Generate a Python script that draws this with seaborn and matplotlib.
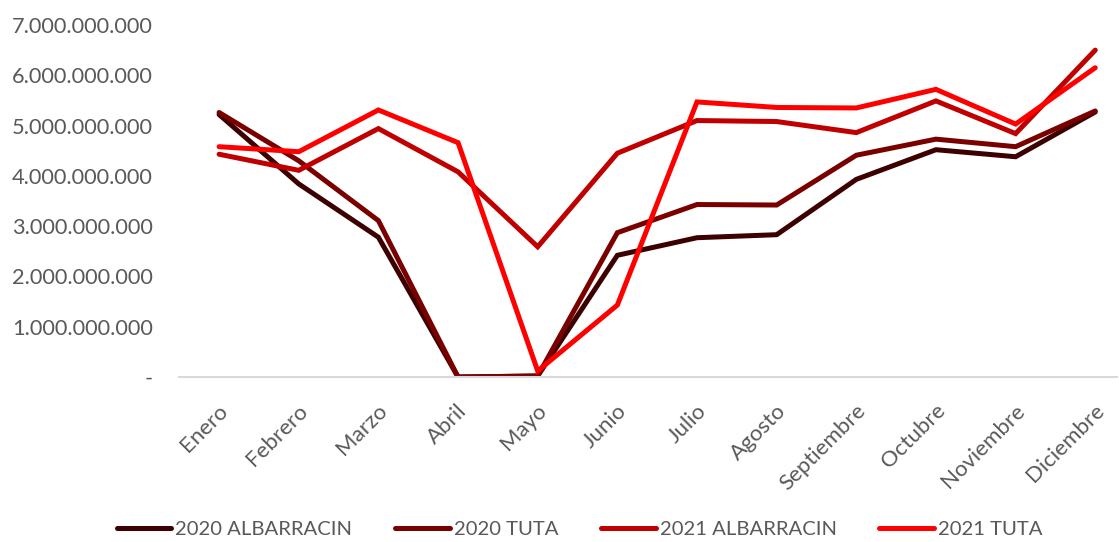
import matplotlib
matplotlib.use("Agg")
import matplotlib.pyplot as plt
from matplotlib.ticker import FuncFormatter, MultipleLocator
from matplotlib.transforms import ScaledTranslation
import seaborn as sns
import pandas as pd

meses = ["Enero", "Febrero", "Marzo", "Abril", "Mayo", "Junio", "Julio",
         "Agosto", "Septiembre", "Octubre", "Noviembre", "Diciembre"]

albarracin_2020 = [5.22e9, 3.84e9, 2.78e9, 0.00e9, 0.02e9, 2.42e9,
                   2.77e9, 2.83e9, 3.93e9, 4.52e9, 4.38e9, 5.27e9]
tuta_2020 = [5.26e9, 4.30e9, 3.11e9, 0.00e9, 0.02e9, 2.87e9,
             3.43e9, 3.42e9, 4.41e9, 4.73e9, 4.58e9, 5.29e9]
albarracin_2021 = [4.43e9, 4.11e9, 4.94e9, 4.08e9, 2.59e9, 4.45e9,
                   5.10e9, 5.08e9, 4.86e9, 5.49e9, 4.84e9, 6.50e9]
tuta_2021 = [4.58e9, 4.48e9, 5.31e9, 4.66e9, 0.12e9, 1.43e9,
             5.47e9, 5.36e9, 5.35e9, 5.72e9, 5.03e9, 6.15e9]

series = ["2020 ALBARRACIN", "2020 TUTA", "2021 ALBARRACIN", "2021 TUTA"]
colores = ["#3d0000", "#7a0000", "#c00000", "#ff0000"]

df = pd.concat([
    pd.DataFrame({"Mes": meses, "Valor": vals, "Serie": name})
    for name, vals in zip(series, [albarracin_2020, tuta_2020,
                                   albarracin_2021, tuta_2021])
], ignore_index=True)

sns.set_theme(style="white")
plt.rcParams["font.family"] = ["Lato", "DejaVu Sans"]

fig = plt.figure(figsize=(11.19, 5.42), dpi=100)
ax = fig.add_axes([0.1602, 0.3044, 0.8378, 0.6495])

LW = 3.6
sns.lineplot(data=df, x="Mes", y="Valor", hue="Serie", hue_order=series,
             palette=colores, linewidth=LW, sort=False, ax=ax, legend=False)
for ln in ax.get_lines():
    ln.set_solid_capstyle("round")
    ln.set_solid_joinstyle("miter")

ax.set_ylim(0, 7e9)
ax.set_xlim(-0.5, 11.27)
ax.yaxis.set_major_locator(MultipleLocator(1e9))


def fmt_miles(v, pos):
    if abs(v) < 1:
        return "-"
    return f"{v:,.0f}".replace(",", ".")


ax.yaxis.set_major_formatter(FuncFormatter(fmt_miles))
ax.set_xlabel("")
ax.set_ylabel("")

for side in ["top", "right", "left"]:
    ax.spines[side].set_visible(False)
ax.spines["bottom"].set_color("#d9d9d9")
ax.spines["bottom"].set_linewidth(1.5)

ax.tick_params(axis="y", length=0, pad=19, labelsize=15.7, labelcolor="#595959")
ax.tick_params(axis="x", length=0, pad=22, labelsize=16, labelcolor="#595959")
shift = ScaledTranslation(6 / 100, 0, fig.dpi_scale_trans)
for lbl in ax.get_xticklabels():
    lbl.set_rotation(45)
    lbl.set_ha("right")
    lbl.set_va("center")
    lbl.set_rotation_mode("anchor")
    lbl.set_transform(lbl.get_transform() + shift)

handles = [plt.Line2D([], [], color=c, linewidth=LW, solid_capstyle="round")
           for c in colores]
fig.legend(handles, series, loc="center", bbox_to_anchor=(0.518, 0.023),
           ncol=4, frameon=False, fontsize=14.6, handlelength=2.7,
           handletextpad=0.2, columnspacing=2.1,
           labelcolor="#595959")

fig.savefig("out.png", dpi=100)
